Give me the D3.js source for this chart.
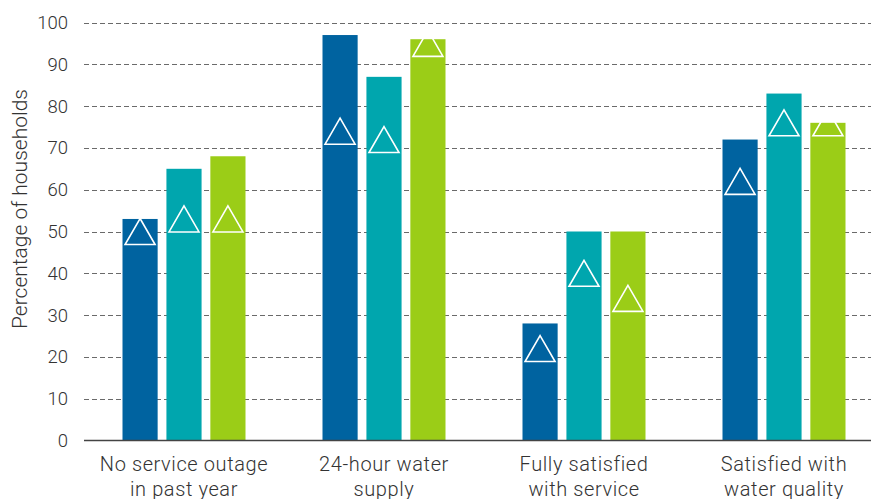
<!DOCTYPE html>
<html>
<head>
<meta charset="utf-8">
<script src="https://cdn.jsdelivr.net/npm/d3@7"></script>
<style>
  body { margin: 0; background: #fff; }
  svg { display: block; font-family: Roboto, "Noto Sans", sans-serif; }
</style>
</head>
<body>
<div id="chart"></div>
<script>
// Household water service indicators
const categories = [
    ['No service outage', 'in past year'],
    ['24-hour water', 'supply'],
    ['Fully satisfied', 'with service'],
    ['Satisfied with', 'water quality']
];
const seriesNames = ['A', 'B', 'C'];
const colors = ['#0063a0', '#00a6ae', '#9bcd17'];

// bar heights per category, one value per series
const barValues = [
    [53, 65, 68],
    [97, 87, 96],
    [28, 50, 50],
    [72, 83, 76]
];
// triangle markers per category, one value per series
const markerValues = [
    [50, 53, 53],
    [74, 72, 95],
    [22, 40, 34],
    [62, 76, 76]
];
const yTicks = [0, 10, 20, 30, 40, 50, 60, 70, 80, 90, 100];

const width = 871, height = 499;
const margin = { top: 22.5, left: 84, bottom: 58.5 };

const svg = d3.select('#chart')
    .append('svg')
    .attr('width', width)
    .attr('height', height);

const x = d3.scaleBand()
    .domain(d3.range(categories.length))
    .range([margin.left, margin.left + 800]);

const xInner = d3.scaleBand()
    .domain(d3.range(seriesNames.length))
    .range([x.bandwidth() / 2 - 61.5, x.bandwidth() / 2 + 61.5])
    .paddingInner(0.2);

const y = d3.scaleLinear()
    .domain([0, 100])
    .range([height - margin.bottom, margin.top]);

// gridlines
svg.append('g')
    .selectAll('line')
    .data(yTicks.filter(d => d > 0))
    .enter()
    .append('line')
    .attr('x1', margin.left)
    .attr('x2', width)
    .attr('y1', d => Math.round(y(d)) + 0.5)
    .attr('y2', d => Math.round(y(d)) + 0.5)
    .attr('stroke', '#6a6a6a')
    .attr('stroke-width', 1.2)
    .attr('stroke-dasharray', '5,3');

// y tick labels
svg.append('g')
    .selectAll('text')
    .data(yTicks)
    .enter()
    .append('text')
    .attr('x', 68)
    .attr('y', d => y(d))
    .attr('dy', '0.35em')
    .attr('text-anchor', 'end')
    .attr('font-size', '18.5px')
    .attr('font-weight', 300)
    .attr('fill', '#333')
    .text(d => d);

// y axis title
svg.append('text')
    .attr('transform', 'translate(27, 209) rotate(-90)')
    .attr('text-anchor', 'middle')
    .attr('font-size', '21px')
    .attr('font-weight', 300)
    .attr('fill', '#333')
    .text('Percentage of households');

// bars and markers
const group = svg.append('g')
    .selectAll('g')
    .data(categories.map((c, i) => i))
    .enter()
    .append('g')
    .attr('transform', i => `translate(${x(i)},0)`);

group.selectAll('rect')
    .data(i => barValues[i].map((v, j) => ({ v, j })))
    .enter()
    .append('rect')
    .attr('x', d => xInner(d.j))
    .attr('width', xInner.bandwidth())
    .attr('y', d => y(d.v))
    .attr('height', d => y(0) - y(d.v))
    .attr('fill', d => colors[d.j]);

const triW = 30, triH = 26;
group.selectAll('path')
    .data(i => markerValues[i].map((v, j) => ({ v, j })))
    .enter()
    .append('path')
    .attr('transform', d => `translate(${xInner(d.j) + xInner.bandwidth() / 2},${y(d.v)})`)
    .attr('d', `M0,${-triH / 2}L${triW / 2},${triH / 2}L${-triW / 2},${triH / 2}Z`)
    .attr('fill', 'none')
    .attr('stroke', '#fff')
    .attr('stroke-width', 1.6);

// baseline
svg.append('line')
    .attr('x1', margin.left)
    .attr('x2', width)
    .attr('y1', y(0))
    .attr('y2', y(0))
    .attr('stroke', '#444')
    .attr('stroke-width', 1.5);

// category labels
const labels = svg.append('g')
    .selectAll('text')
    .data(categories)
    .enter()
    .append('text')
    .attr('x', (d, i) => x(i) + x.bandwidth() / 2)
    .attr('y', 471)
    .attr('text-anchor', 'middle')
    .attr('font-size', '20px')
    .attr('letter-spacing', '0.6px')
    .attr('font-weight', 300)
    .attr('fill', '#333');

labels.selectAll('tspan')
    .data(d => d)
    .enter()
    .append('tspan')
    .attr('x', function () { return d3.select(this.parentNode).attr('x'); })
    .attr('dy', (d, i) => i === 0 ? 0 : 24.5)
    .text(d => d);
</script>
</body>
</html>
